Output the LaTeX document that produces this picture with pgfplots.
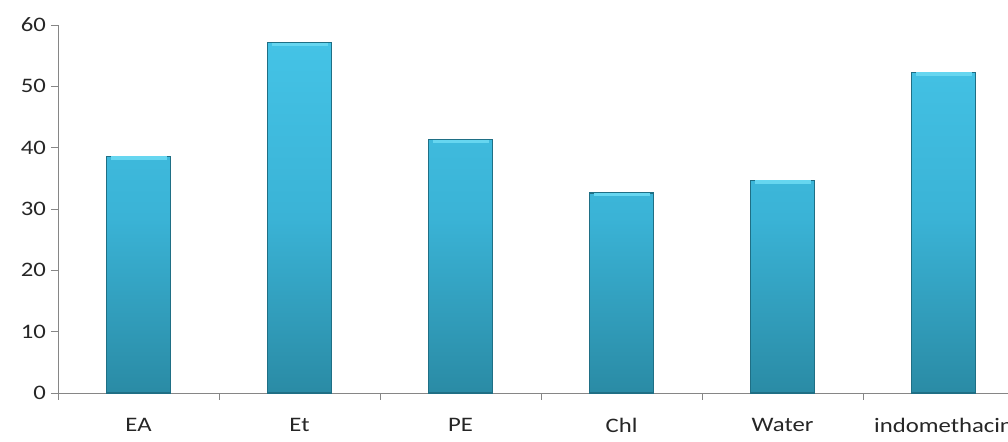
\documentclass[border=0pt]{standalone}
\usepackage{pgfplots}
\pgfplotsset{compat=1.18}
\usepackage{fontspec}
\setmainfont{Carlito}[FakeStretch=1.2]
\definecolor{axisgray}{HTML}{868686}
\definecolor{bartop}{HTML}{44C3E6}
\definecolor{barmid}{HTML}{3AB3D6}
\definecolor{barbot}{HTML}{2A8BA5}
\definecolor{baredge}{HTML}{1F6F85}
\definecolor{barlight}{HTML}{66D6F0}
\begin{document}
\begin{tikzpicture}
\begin{axis}[
  at={(0,0)}, anchor=south west,
  scale only axis,
  width=475pt, height=184pt,
  xmin=-0.5, xmax=5.4,
  ymin=0, ymax=60,
  axis x line=bottom, axis y line=left,
  axis line style={draw=axisgray, -},
  tick align=outside,
  major tick length=3.5pt,
  tick style={draw=axisgray},
  ytick={0,10,...,60},
  xtick={0,1,2,3,4,5},
  xticklabels={EA,Et,PE,Chl,Water,indomethacin},
  major x tick style={draw=none},
  extra x ticks={-0.5,0.5,1.5,2.5,3.5,4.5},
  extra x tick labels={},
  extra x tick style={major x tick style={draw=axisgray}},
  tick label style={font=\fontsize{10.3}{12}\selectfont, text=black!85},
  xticklabel style={yshift=-5.5pt},
  yticklabel style={xshift=1pt},
  /pgf/number format/assume math mode=true,
  clip=false,
]
\addplot[ybar, bar width=32pt, bar shift=0pt, draw=baredge, line width=0.6pt, top color=bartop, bottom color=barbot, middle color=barmid]
 coordinates {(0,38.6) (1,57.1) (2,41.3) (3,32.6) (4,34.7) (5,52.3)};
\addplot[only marks, mark=-, mark size=14pt, mark options={draw=barlight, line width=1.6pt}]
 coordinates {(0,38.3) (1,56.8) (2,41.0) (3,32.3) (4,34.4) (5,52.0)};
\end{axis}
\pgfresetboundingbox
\path (-29pt,-24.5pt) rectangle (475pt,196.5pt);
\end{tikzpicture}
\end{document}
